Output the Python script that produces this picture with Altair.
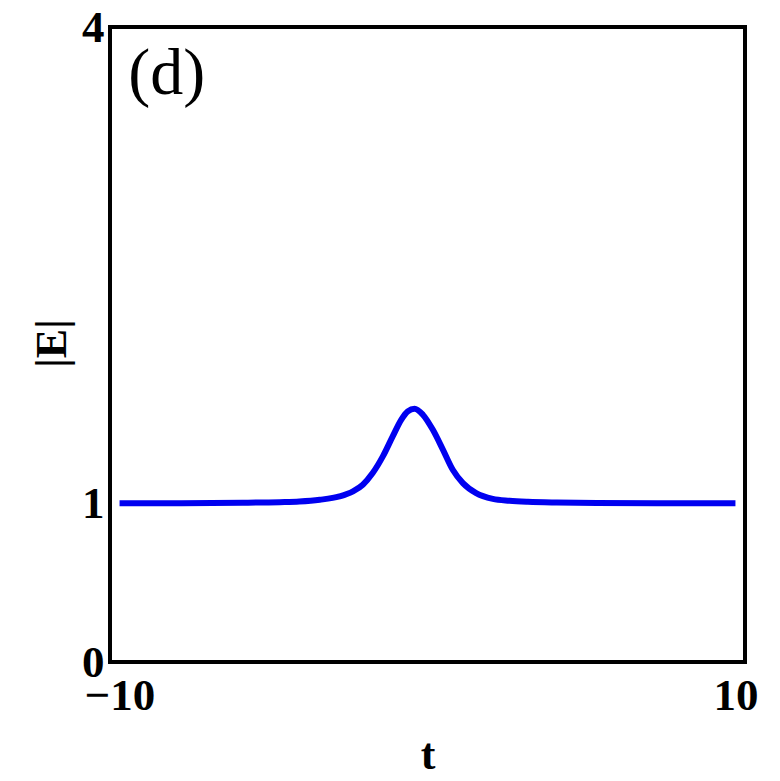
import altair as alt
import pandas as pd

# curve
t_vals = [-10, -8, -6, -4.8, -4.16, -3.5, -2.86, -2.42, -2.10, -1.78, -1.45, -1.13,
          -0.85, -0.64, -0.42, -0.15, 0.17, 0.50, 0.82, 1.15, 1.58, 2.12, 2.66,
          3.26, 4.2, 5.5, 7.5, 10]
e_vals = [1.0, 1.0, 1.003, 1.007, 1.011, 1.022, 1.043, 1.075, 1.117, 1.190, 1.295, 1.421,
          1.527, 1.579, 1.596, 1.558, 1.464, 1.338, 1.211, 1.127, 1.064, 1.028, 1.016,
          1.009, 1.004, 1.001, 1.0, 1.0]

x_ticks = [-10, 10]
y_ticks = [0, 1, 4]
x_domain = [-10.31, 10.31]
y_domain = [0, 4]

panel_label = ["(d)"]
panel_t = [-9.72]
panel_e = [3.575]

df = pd.DataFrame({"t": t_vals, "E": e_vals})
lab = pd.DataFrame({"txt": panel_label, "t": panel_t, "E": panel_e})

FONT = "Liberation Serif"

x_enc = alt.X("t:Q", scale=alt.Scale(domain=x_domain, nice=False, zero=False),
              axis=alt.Axis(values=x_ticks, title="t", grid=False, domain=False,
                            ticks=False, tickSize=0, labelPadding=11,
                            labelExpr="datum.value < 0 ? '\u2212' + format(-datum.value, 'd') : format(datum.value, 'd')",
                            titleY=106, titleBaseline="alphabetic"))
y_enc = alt.Y("E:Q", scale=alt.Scale(domain=y_domain, nice=False, zero=False),
              axis=alt.Axis(values=y_ticks, title="|E|", grid=False, domain=False,
                            ticks=False, tickSize=0, labelPadding=6, format="d",
                            titleX=-58, titleY=316, titleAngle=-90,
                            titleBaseline="middle", titleAlign="center"))

line = alt.Chart(df).mark_line(color="#0000f0", strokeWidth=6, strokeCap="butt",
                               interpolate="monotone").encode(x=x_enc, y=y_enc)

text = alt.Chart(lab).mark_text(font=FONT, fontSize=66, fontWeight="normal",
                                align="left", baseline="alphabetic", color="black").encode(
    x="t:Q", y="E:Q", text="txt:N")

chart = (line + text).properties(
    width=635, height=635,
    padding={"left": 102, "top": 19, "right": 20, "bottom": 115},
    autosize=alt.AutoSizeParams(type="none"),
    background="white",
).configure_view(stroke="black", strokeWidth=4).configure_axis(
    labelFont=FONT, labelFontSize=45, labelFontWeight="bold", labelColor="black",
    titleFont=FONT, titleFontSize=44, titleFontWeight="bold", titleColor="black",
    labelFlush=False, labelOverlap=False,
)

chart.save("out.html", embed_options={"renderer": "svg", "actions": False})
